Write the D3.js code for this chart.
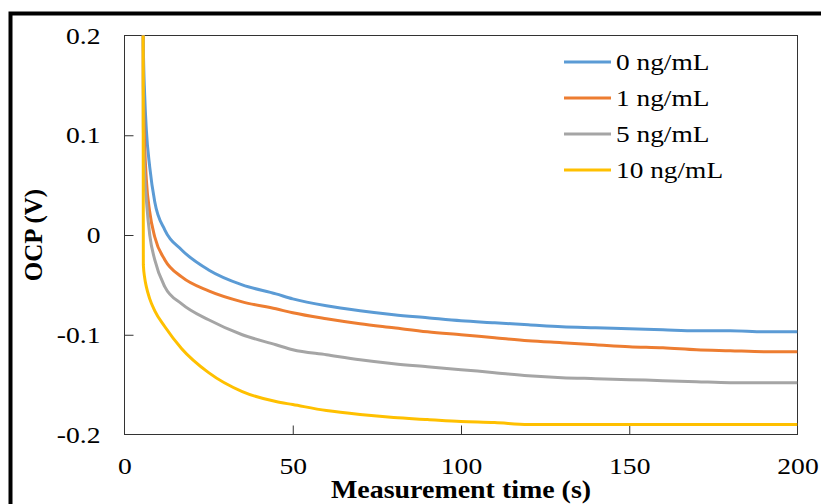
<!DOCTYPE html>
<html>
<head>
<meta charset="utf-8">
<script src="https://cdn.jsdelivr.net/npm/d3@7"></script>
<style>
  html, body { margin: 0; padding: 0; background: #fff; }
  svg { display: block; }
  text { font-family: "Liberation Serif", "Times New Roman", serif; fill: #000; }
</style>
</head>
<body>
<svg id="chart" width="821" height="504"></svg>
<script>
// ---- data ----
const times = [5.5, 5.6, 6, 6.5, 7.5, 9, 12, 17, 25, 35, 45, 50, 60, 70, 80, 90, 100, 110, 120, 130, 140, 150, 160, 170, 180, 190, 200];
const conc0  = [0.30, 0.19, 0.14, 0.105, 0.068, 0.033, 0.005, -0.015, -0.035, -0.050, -0.059, -0.064, -0.071, -0.076, -0.080, -0.083, -0.086, -0.088, -0.090, -0.092, -0.093, -0.094, -0.095, -0.096, -0.096, -0.097, -0.097];
const conc1  = [0.30, 0.15, 0.09, 0.055, 0.023, -0.002, -0.025, -0.042, -0.056, -0.067, -0.074, -0.078, -0.084, -0.089, -0.093, -0.097, -0.100, -0.103, -0.106, -0.108, -0.110, -0.112, -0.113, -0.115, -0.116, -0.117, -0.117];
const conc5  = [0.30, 0.11, 0.06, 0.035, 0.000, -0.025, -0.052, -0.069, -0.085, -0.100, -0.110, -0.115, -0.120, -0.125, -0.129, -0.132, -0.135, -0.138, -0.141, -0.143, -0.144, -0.145, -0.146, -0.147, -0.148, -0.148, -0.148];
const conc10 = [0.30, -0.03, -0.043, -0.052, -0.064, -0.076, -0.092, -0.114, -0.138, -0.157, -0.167, -0.170, -0.176, -0.180, -0.183, -0.185, -0.187, -0.188, -0.190, -0.190, -0.190, -0.190, -0.190, -0.190, -0.190, -0.190, -0.190];
const seriesNames = ["0 ng/mL", "1 ng/mL", "5 ng/mL", "10 ng/mL"];
const seriesColors = ["#5B9BD5", "#ED7D31", "#A5A5A5", "#FFC000"];
const xTicks = [0, 50, 100, 150, 200];
const yTicks = [0.2, 0.1, 0, -0.1, -0.2];
const yTickLabels = ["0.2", "0.1", "0", "-0.1", "-0.2"];
const xTitle = "Measurement time (s)";
const yTitle = "OCP (V)";

// ---- layout ----
const svg = d3.select("#chart");
const L = 124.5, R = 797.5, T = 35.5, B = 434.5;
const x = d3.scaleLinear().domain([0, 200]).range([L, R]);
const y = d3.scaleLinear().domain([-0.2, 0.2]).range([B, T]);
const SX = 1.15; // horizontal text stretch seen in the reference

// outer frame (figure border, partly cut off)
svg.append("rect").attr("x", 10.5).attr("y", 13.5).attr("width", 900).attr("height", 600)
  .attr("fill", "none").attr("stroke", "#000").attr("stroke-width", 4);

// plot area border
svg.append("rect").attr("x", L).attr("y", T).attr("width", R - L).attr("height", B - T)
  .attr("fill", "none").attr("stroke", "#333").attr("stroke-width", 1);

// axes (ticks inside)
const xAxis = svg.append("g").attr("transform", `translate(0,${B})`)
  .call(d3.axisBottom(x).tickValues(xTicks).tickSize(-9).tickPadding(22).tickFormat(d3.format("d")));
const yAxis = svg.append("g").attr("transform", `translate(${L},0)`)
  .call(d3.axisLeft(y).tickValues(yTicks).tickSize(-9).tickPadding(24)
    .tickFormat((d, i) => yTickLabels[i]));
[xAxis, yAxis].forEach(g => {
  g.select(".domain").remove();
  g.selectAll(".tick line").attr("stroke", "#333");
  g.selectAll(".tick text").style("font-family", "'Liberation Serif', serif").style("font-size", "24px").attr("fill", "#000");
});
xAxis.selectAll(".tick text").attr("transform", `scale(${SX},1)`);
yAxis.selectAll(".tick text").attr("x", 0).attr("transform", `translate(-24,0) scale(${SX},1)`);
// hide ticks at ends (they coincide with frame)
xAxis.selectAll(".tick").filter(d => d === 0 || d === 200).select("line").remove();
yAxis.selectAll(".tick").filter(d => d === 0.2 || d === -0.2).select("line").remove();

// clip
svg.append("clipPath").attr("id", "clip").append("rect")
  .attr("x", L).attr("y", T).attr("width", R - L).attr("height", B - T);

const allSeries = [conc0, conc1, conc5, conc10];
const line = d3.line().x((d, i) => x(times[i])).y(d => y(d)).curve(d3.curveMonotoneX);
const gLines = svg.append("g").attr("clip-path", "url(#clip)");
allSeries.forEach((vals, k) => {
  gLines.append("path").datum(vals).attr("d", line)
    .attr("fill", "none").attr("stroke", seriesColors[k]).attr("stroke-width", 3)
    .attr("stroke-linejoin", "round");
});

// legend
const lg = svg.append("g");
seriesNames.forEach((name, k) => {
  const yy = 62 + k * 36;
  lg.append("line").attr("x1", 564).attr("x2", 611).attr("y1", yy).attr("y2", yy)
    .attr("stroke", seriesColors[k]).attr("stroke-width", 3);
  lg.append("text").attr("transform", `translate(616,${yy + 8}) scale(1.14,1)`)
    .style("font-size", "24px").text(name);
});

// titles
svg.append("text").attr("transform", `translate(${(L + R) / 2},498) scale(1.075,1)`).attr("text-anchor", "middle")
  .style("font-size", "26px").style("font-weight", "bold").text(xTitle);
svg.append("text").attr("transform", `translate(42,${(T + B) / 2}) rotate(-90)`).attr("text-anchor", "middle")
  .style("font-size", "25px").style("font-weight", "bold").text(yTitle);
</script>
</body>
</html>
